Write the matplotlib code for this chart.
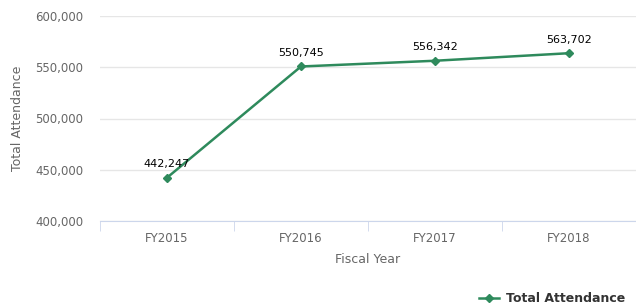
import matplotlib.pyplot as plt
from matplotlib.lines import Line2D
from matplotlib.ticker import FuncFormatter

# data
years = ["FY2015", "FY2016", "FY2017", "FY2018"]
attendance = [442247, 550745, 556342, 563702]
yticks = [400000, 450000, 500000, 550000, 600000]

green = "#2e8a5c"
grey = "#666666"

fig = plt.figure(figsize=(6.36, 3.06), dpi=100)
ax = fig.add_axes([100 / 636, 85 / 306, 536 / 636, 205 / 306])

x = list(range(len(years)))
ax.plot(x, attendance, color=green, linewidth=1.8, marker="D", markersize=4.5, zorder=3)
for xi, v in zip(x, attendance):
    ax.annotate(f"{v:,}", (xi, v), xytext=(0, 6), textcoords="offset points",
                ha="center", va="bottom", fontsize=8, color="#000000")

ax.set_xlim(-0.5, len(years) - 0.5)
ax.set_ylim(yticks[0], yticks[-1])
ax.set_yticks(yticks)
ax.yaxis.set_major_formatter(FuncFormatter(lambda v, p: f"{int(v):,}"))
ax.set_xticks(x)
ax.set_xticklabels(years)
ax.set_xticks([i - 0.5 for i in range(len(years) + 1)], minor=True)

ax.grid(axis="y", color="#e6e6e6", linewidth=1)
ax.set_axisbelow(True)
for s in ["top", "right", "left"]:
    ax.spines[s].set_visible(False)
ax.spines["bottom"].set_color("#ccd6eb")

ax.tick_params(axis="y", length=0, labelsize=8.5, labelcolor=grey, pad=12)
ax.tick_params(axis="x", which="major", length=0, labelsize=8.5, labelcolor=grey, pad=8)
ax.tick_params(axis="x", which="minor", length=7, color="#ccd6eb")

ax.set_xlabel("Fiscal Year", fontsize=9, color=grey, labelpad=6)
ax.set_ylabel("Total Attendance", fontsize=9, color=grey, labelpad=8)

handle = Line2D([], [], color=green, linewidth=1.8, marker="D", markersize=4.5)
leg = fig.legend([handle], ["Total Attendance"], loc="lower right",
                 bbox_to_anchor=(1.0, -0.035), frameon=False,
                 prop={"weight": "bold", "size": 9}, handlelength=1.6,
                 handletextpad=0.5)
for t in leg.get_texts():
    t.set_color("#333333")

fig.savefig("out.png", dpi=100)
